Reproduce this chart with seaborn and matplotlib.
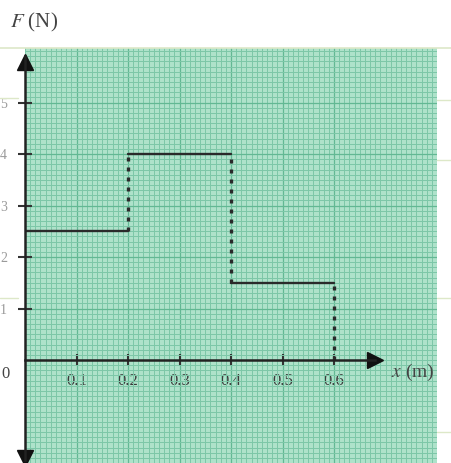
import numpy as np
import pandas as pd
import matplotlib
matplotlib.use("Agg")
import matplotlib.pyplot as plt
import seaborn as sns
from matplotlib.ticker import MultipleLocator

# Step force data
x_edges = [0.0, 0.2, 0.4, 0.6]
force = [2.5, 4.0, 1.5]
x_ticks = [0.1, 0.2, 0.3, 0.4, 0.5, 0.6]
x_tick_labels = ["0.1", "0.2", "0.3", "0.4", "0.5", "0.6"]
y_ticks = [1, 2, 3, 4, 5]
y_tick_labels = ["1", "2", "3", "4", "5"]

sns.set_style("white")
plt.rcParams['font.family'] = ['Liberation Serif', 'DejaVu Serif']

fig = plt.figure(figsize=(4.51, 4.63), dpi=100)
ax = fig.add_axes([25 / 451, 0, 412 / 451, 415 / 463])
ax.set_facecolor("#aee2ca")
ax.set_xlim(0, 0.8)
ax.set_ylim(-2.0, 6.06)

# graph paper grid
ax.xaxis.set_minor_locator(MultipleLocator(0.01))
ax.yaxis.set_minor_locator(MultipleLocator(0.1))
ax.grid(which="minor", color="#7cc7a7", linewidth=0.7)
ax.grid(which="major", color="#62b893", linewidth=0.9)
ax.set_axisbelow(True)

# horizontal segments (solid)
seg = pd.DataFrame({
    "x": [v for i in range(len(force)) for v in (x_edges[i], x_edges[i + 1])],
    "F": [f for f in force for _ in range(2)],
    "seg": [i for i in range(len(force)) for _ in range(2)],
})
sns.lineplot(data=seg, x="x", y="F", units="seg", estimator=None,
             color="#2a2a2a", linewidth=1.7, ax=ax, legend=False)

# vertical jumps (dotted)
jump_lo = [min(force[i - 1], force[i]) for i in range(1, len(force))] + [0]
jump_hi = [max(force[i - 1], force[i]) for i in range(1, len(force))] + [force[-1]]
ax.vlines(x_edges[1:], jump_lo, jump_hi, colors="#2a2a2a",
          linestyles=(0, (1.2, 1.8)), linewidth=2.4)

# axes through origin with arrows
for s in ["top", "right"]:
    ax.spines[s].set_visible(False)
ax.spines["left"].set_position(("data", 0))
ax.spines["bottom"].set_position(("data", 0))
ax.spines["left"].set_bounds(-1.95, 5.9)
ax.spines["bottom"].set_bounds(0, 0.68)
for s in ["left", "bottom"]:
    ax.spines[s].set_color("#222222")
    ax.spines[s].set_linewidth(1.8)
ax.plot(0, 5.78, marker="^", markersize=11, color="#111111", clip_on=False)
ax.plot(0, -1.9, marker="v", markersize=11, color="#111111", clip_on=False)
ax.plot(0.68, 0, marker=">", markersize=11, color="#111111", clip_on=False)

ax.set_xticks(x_ticks)
ax.set_xticklabels(x_tick_labels)
ax.set_yticks(y_ticks)
ax.set_yticklabels(y_tick_labels)
ax.tick_params(axis="both", which="major", direction="inout",
               width=1.5, color="#333333", labelcolor="#3a3a3a", labelsize=12,
               bottom=True, left=True)
ax.tick_params(axis="x", pad=5, length=9)
ax.tick_params(axis="y", pad=8, length=10, labelsize=10, labelcolor="#9a9a9a")
ax.tick_params(which="minor", length=0)
ax.set_xlabel("")
ax.set_ylabel("")

fig.text(1 / 451, 1 - 374 / 463, "0", fontsize=12, color="#444444",
         ha="left", va="center")
fig.text(10 / 451, 1 - 22 / 463, "$F$ (N)", fontsize=15, color="#444444",
         ha="left", va="center", math_fontfamily="stix")
fig.text(391 / 451, 1 - 372 / 463, "$x$ (m)", fontsize=14, color="#444444",
         ha="left", va="center", math_fontfamily="stix")

# faint page lines
fig.add_artist(plt.Line2D([0, 1], [1 - 48 / 463] * 2, color="#dde8c8", lw=1.2))
fig.add_artist(plt.Line2D([437 / 451, 1], [1 - 100 / 463] * 2, color="#dde8c8", lw=1))
fig.add_artist(plt.Line2D([437 / 451, 1], [1 - 160 / 463] * 2, color="#dde8c8", lw=1))
fig.add_artist(plt.Line2D([0, 18 / 451], [1 - 98 / 463] * 2, color="#dde8c8", lw=1))
fig.add_artist(plt.Line2D([0, 18 / 451], [1 - 298 / 463] * 2, color="#dde8c8", lw=1))
fig.add_artist(plt.Line2D([437 / 451, 1], [1 - 298 / 463] * 2, color="#dde8c8", lw=1))
fig.add_artist(plt.Line2D([437 / 451, 1], [1 - 432 / 463] * 2, color="#dde8c8", lw=1))

fig.savefig("out.png", dpi=100)
